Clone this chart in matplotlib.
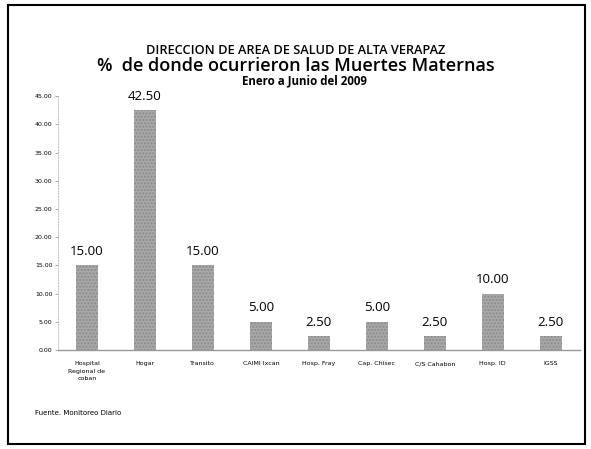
import matplotlib
matplotlib.use('Agg')
import matplotlib.pyplot as plt
from matplotlib.patches import Rectangle

# Datos del grafico
categorias = ['Hospital\nRegional de\ncoban', 'Hogar', 'Transito', 'CAIMI Ixcan',
              'Hosp. Fray', 'Cap. Chisec', 'C/S Cahabon', 'Hosp. ID', 'IGSS']
porcentajes = [15.00, 42.50, 15.00, 5.00, 2.50, 5.00, 2.50, 10.00, 2.50]
yticks = [0, 5, 10, 15, 20, 25, 30, 35, 40, 45]

fig = plt.figure(figsize=(5.91, 4.49), dpi=100)
ax = fig.add_axes([0.098, 0.2205, 0.883, 0.5655])

bars = ax.bar(range(len(categorias)), porcentajes, width=0.38,
              color='#a8a8a8', edgecolor='#8a8a8a', linewidth=0, hatch='.....')

for bar, v in zip(bars, porcentajes):
    ax.text(bar.get_x() + bar.get_width() / 2, v + 1.3, f"{v:.2f}",
            ha='center', va='bottom', fontsize=9.5, family='Open Sans')

ax.set_xlim(-0.5, len(categorias) - 0.5)
ax.set_ylim(0, 45)
ax.set_yticks(yticks)
ax.set_yticklabels([f"{t:.2f}" for t in yticks], fontsize=4.5)
ax.set_xticks(range(len(categorias)))
ax.set_xticklabels(categorias, fontsize=4.5, linespacing=1.6)
ax.tick_params(axis='x', length=0, pad=8)
ax.tick_params(axis='y', length=2, width=0.5, color='#888888', pad=2)

for s in ['top', 'right']:
    ax.spines[s].set_visible(False)
ax.spines['left'].set_color('#aaaaaa')
ax.spines['left'].set_linewidth(0.5)
ax.spines['left'].set_linestyle((0, (2, 2)))
ax.spines['bottom'].set_color('#999999')
ax.spines['bottom'].set_linewidth(1)

fig.text(0.5, 0.888, 'DIRECCION DE AREA DE SALUD DE ALTA VERAPAZ',
         ha='center', va='center', fontsize=9.2, family='Open Sans', weight='semibold')
fig.text(0.5, 0.852, '%  de donde ocurrieron las Muertes Maternas',
         ha='center', va='center', fontsize=13, family='Open Sans', weight='semibold')
fig.text(0.515, 0.819, 'Enero a Junio del 2009',
         ha='center', va='center', fontsize=8.3, family='Open Sans', weight='bold')
fig.text(0.06, 0.08, 'Fuente. Monitoreo Diario', ha='left', va='center', fontsize=5)

# Marco exterior
fig.patches.append(Rectangle((0.014, 0.011), 0.976, 0.978, transform=fig.transFigure,
                             fill=False, edgecolor='black', linewidth=1.5))

plt.savefig('out.png', dpi=100)
plt.close()
